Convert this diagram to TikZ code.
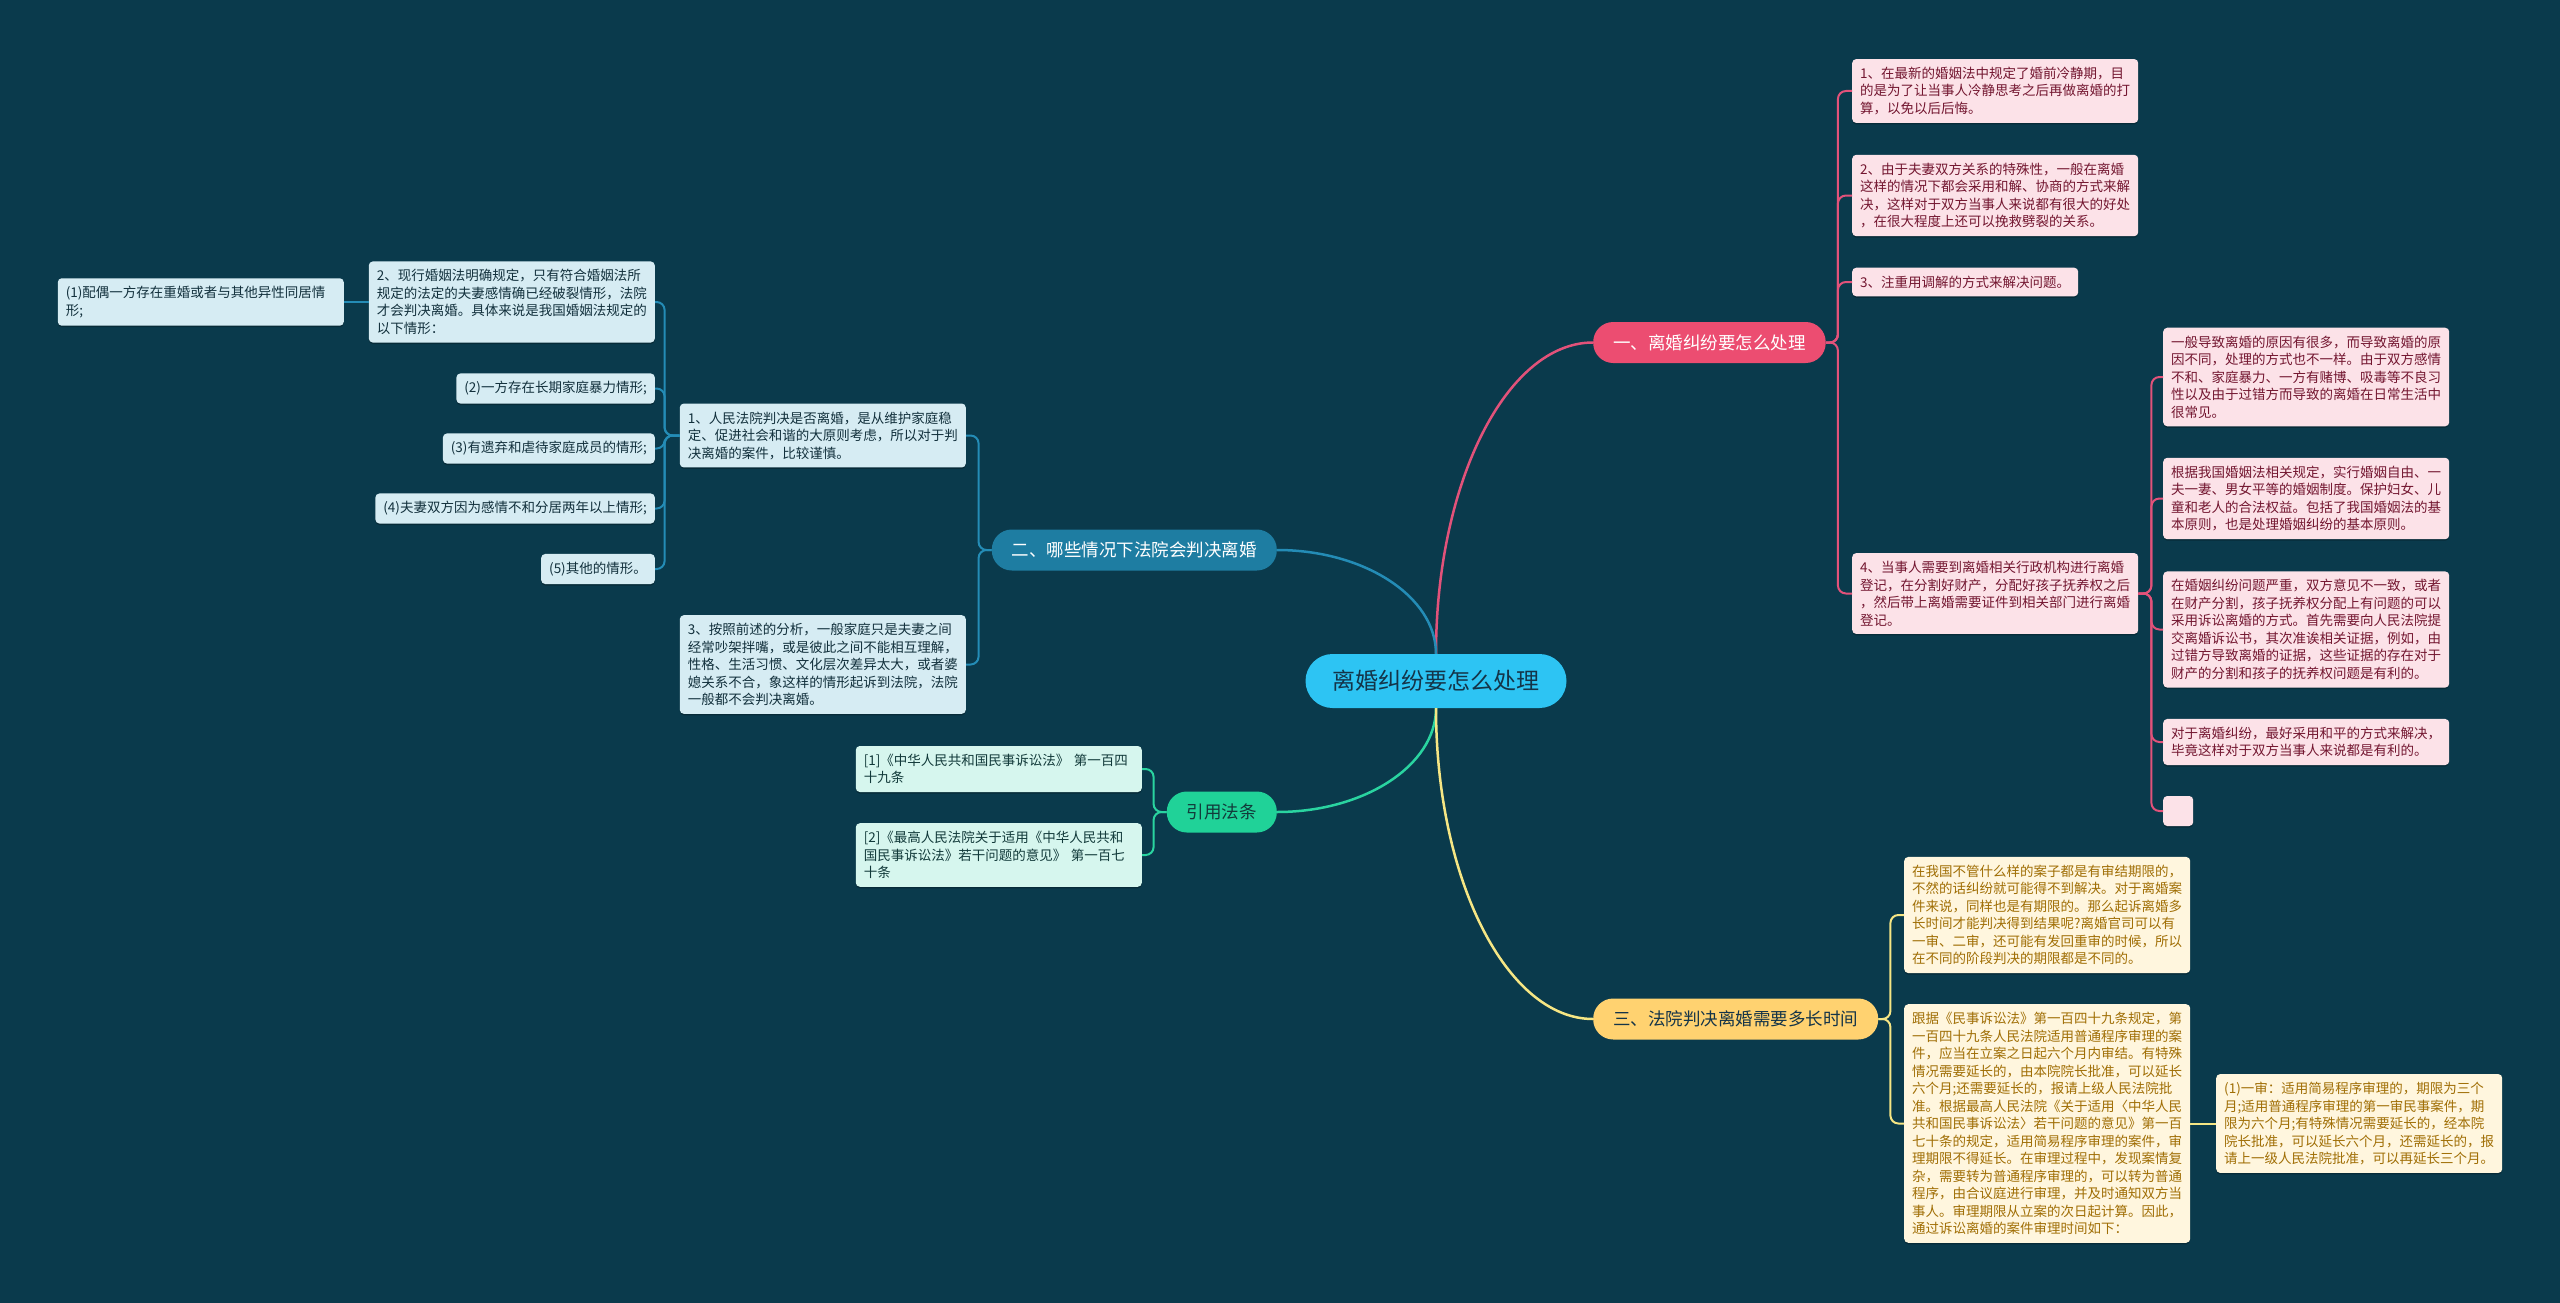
\documentclass[tikz,border=0pt]{standalone}
\usepackage{fontspec}
\newfontfamily\cjk{Noto Sans CJK SC}
\usetikzlibrary{calc,shadows}
\definecolor{bg}{RGB}{10,58,76}
\definecolor{rootfill}{RGB}{45,196,243}
\definecolor{roottext}{RGB}{20,52,72}
\definecolor{pinkfill}{RGB}{236,77,113}
\definecolor{pinkline}{RGB}{226,82,122}
\definecolor{pinkbg}{RGB}{252,226,232}
\definecolor{pinktx}{RGB}{115,22,48}
\definecolor{bluefill}{RGB}{30,125,162}
\definecolor{blueline}{RGB}{36,140,182}
\definecolor{bluebg}{RGB}{214,236,243}
\definecolor{bluetx}{RGB}{18,48,60}
\definecolor{greenfill}{RGB}{32,210,152}
\definecolor{greenline}{RGB}{42,212,160}
\definecolor{greenbg}{RGB}{214,246,238}
\definecolor{greentx}{RGB}{18,58,58}
\definecolor{yellowfill}{RGB}{255,210,112}
\definecolor{yellowline}{RGB}{246,230,132}
\definecolor{yellowbg}{RGB}{255,246,222}
\definecolor{yellowtx}{RGB}{160,110,5}
\begin{document}
\begin{tikzpicture}[x=1pt,y=-1pt,
  leaf/.style={rounded corners=4pt, inner xsep=8pt, inner ysep=8pt, align=left,
    font=\cjk\fontsize{13.5}{17.5}\selectfont,
    general shadow={fill=black, opacity=0.25, shadow yshift=-1.5pt}},
  wide/.style={text width=270pt},
  pleaf/.style={leaf, fill=pinkbg, text=pinktx},
  bleaf/.style={leaf, fill=bluebg, text=bluetx},
  gleaf/.style={leaf, fill=greenbg, text=greentx},
  yleaf/.style={leaf, fill=yellowbg, text=yellowtx},
  branch/.style={rounded corners=20pt, minimum height=41pt, inner xsep=20pt, inner ysep=0pt,
    font=\cjk\fontsize{17.5}{20}\selectfont},
  conn/.style={line width=2pt, rounded corners=8pt},
  mainconn/.style={line width=2.5pt},
]
\useasboundingbox[fill=bg] (0,0) rectangle (2560,1303);

% root
\node[fill=rootfill, text=roottext, rounded corners=27pt, minimum height=54pt, inner xsep=27pt,
  font=\cjk\fontsize{23}{26}\selectfont] (root) at (1436,681) {离婚纠纷要怎么处理};

% branches
\node[branch, fill=pinkfill, text=white, anchor=west] (pb) at (1593,342.5) {一、离婚纠纷要怎么处理};
\node[branch, fill=bluefill, text=white, anchor=east] (bb) at (1277,550) {二、哪些情况下法院会判决离婚};
\node[branch, fill=greenfill, text=greentx, anchor=east] (gb) at (1277,812) {引用法条};
\node[branch, fill=yellowfill, text=roottext, anchor=west] (yb) at (1593,1019) {三、法院判决离婚需要多长时间};

% pink leaves
\node[pleaf, wide, anchor=west] (n1) at (1852,91) {1、在最新的婚姻法中规定了婚前冷静期，目\\的是为了让当事人冷静思考之后再做离婚的打\\算，以免以后后悔。};
\node[pleaf, wide, anchor=west] (n2) at (1852,195.5) {2、由于夫妻双方关系的特殊性，一般在离婚\\这样的情况下都会采用和解、协商的方式来解\\决，这样对于双方当事人来说都有很大的好处\\，在很大程度上还可以挽救劈裂的关系。};
\node[pleaf, anchor=west] (n3) at (1852,282) {3、注重用调解的方式来解决问题。};
\node[pleaf, wide, anchor=west] (n4) at (1852,593.5) {4、当事人需要到离婚相关行政机构进行离婚\\登记，在分割好财产，分配好孩子抚养权之后\\，然后带上离婚需要证件到相关部门进行离婚\\登记。};

\node[pleaf, wide, anchor=west] (s1) at (2163,377) {一般导致离婚的原因有很多，而导致离婚的原\\因不同，处理的方式也不一样。由于双方感情\\不和、家庭暴力、一方有赌博、吸毒等不良习\\性以及由于过错方而导致的离婚在日常生活中\\很常见。};
\node[pleaf, wide, anchor=west] (s2) at (2163,498.5) {根据我国婚姻法相关规定，实行婚姻自由、一\\夫一妻、男女平等的婚姻制度。保护妇女、儿\\童和老人的合法权益。包括了我国婚姻法的基\\本原则，也是处理婚姻纠纷的基本原则。};
\node[pleaf, wide, anchor=west] (s3) at (2163,629.5) {在婚姻纠纷问题严重，双方意见不一致，或者\\在财产分割，孩子抚养权分配上有问题的可以\\采用诉讼离婚的方式。首先需要向人民法院提\\交离婚诉讼书，其次准诶相关证据，例如，由\\过错方导致离婚的证据，这些证据的存在对于\\财产的分割和孩子的抚养权问题是有利的。};
\node[pleaf, wide, anchor=west] (s4) at (2163,742) {对于离婚纠纷，最好采用和平的方式来解决，\\毕竟这样对于双方当事人来说都是有利的。};
\node[pleaf, anchor=west, inner sep=0pt, minimum width=30pt, minimum height=30pt] (s5) at (2163,811) {};

% blue leaves
\node[bleaf, wide, anchor=east] (b1) at (966,435.5) {1、人民法院判决是否离婚，是从维护家庭稳\\定、促进社会和谐的大原则考虑，所以对于判\\决离婚的案件，比较谨慎。};
\node[bleaf, wide, anchor=east] (b3) at (966,664.5) {3、按照前述的分析，一般家庭只是夫妻之间\\经常吵架拌嘴，或是彼此之间不能相互理解，\\性格、生活习惯、文化层次差异太大，或者婆\\媳关系不合，象这样的情形起诉到法院，法院\\一般都不会判决离婚。};
\node[bleaf, wide, anchor=east] (b2) at (655,302) {2、现行婚姻法明确规定，只有符合婚姻法所\\规定的法定的夫妻感情确已经破裂情形，法院\\才会判决离婚。具体来说是我国婚姻法规定的\\以下情形：};
\node[bleaf, anchor=east] (c2) at (655,388.5) {(2)一方存在长期家庭暴力情形;};
\node[bleaf, anchor=east] (c3) at (655,448.5) {(3)有遗弃和虐待家庭成员的情形;};
\node[bleaf, anchor=east] (c4) at (655,508.5) {(4)夫妻双方因为感情不和分居两年以上情形;};
\node[bleaf, anchor=east] (c5) at (655,569) {(5)其他的情形。};
\node[bleaf, wide, anchor=east] (c1) at (344,302) {(1)配偶一方存在重婚或者与其他异性同居情\\形;};

% green leaves
\node[gleaf, wide, anchor=east] (r1) at (1142,769) {[1]《中华人民共和国民事诉讼法》 第一百四\\十九条};
\node[gleaf, wide, anchor=east] (r2) at (1142,855) {[2]《最高人民法院关于适用《中华人民共和\\国民事诉讼法》若干问题的意见》 第一百七\\十条};

% yellow leaves
\node[yleaf, wide, anchor=west] (y1) at (1904,915) {在我国不管什么样的案子都是有审结期限的，\\不然的话纠纷就可能得不到解决。对于离婚案\\件来说，同样也是有期限的。那么起诉离婚多\\长时间才能判决得到结果呢?离婚官司可以有\\一审、二审，还可能有发回重审的时候，所以\\在不同的阶段判决的期限都是不同的。};
\node[yleaf, wide, anchor=west] (y2) at (1904,1123.5) {跟据《民事诉讼法》第一百四十九条规定，第\\一百四十九条人民法院适用普通程序审理的案\\件，应当在立案之日起六个月内审结。有特殊\\情况需要延长的，由本院院长批准，可以延长\\六个月;还需要延长的，报请上级人民法院批\\准。根据最高人民法院《关于适用〈中华人民\\共和国民事诉讼法〉若干问题的意见》第一百\\七十条的规定，适用简易程序审理的案件，审\\理期限不得延长。在审理过程中，发现案情复\\杂，需要转为普通程序审理的，可以转为普通\\程序，由合议庭进行审理，并及时通知双方当\\事人。审理期限从立案的次日起计算。因此，\\通过诉讼离婚的案件审理时间如下：};
\node[yleaf, wide, anchor=west] (y3) at (2216,1123.5) {(1)一审：适用简易程序审理的，期限为三个\\月;适用普通程序审理的第一审民事案件，期\\限为六个月;有特殊情况需要延长的，经本院\\院长批准，可以延长六个月，还需延长的，报\\请上一级人民法院批准，可以再延长三个月。};

% root connectors (quarter ellipses)
\draw[mainconn, pinkline] (root.north) .. controls ($(root.north)!0.55!(root.north |- pb.west)$) and ($(pb.west)!0.55!(root.north |- pb.west)$) .. (pb.west);
\draw[mainconn, blueline] (root.north) .. controls ($(root.north)!0.55!(root.north |- bb.east)$) and ($(bb.east)!0.55!(root.north |- bb.east)$) .. (bb.east);
\draw[mainconn, greenline] (root.south) .. controls ($(root.south)!0.55!(root.south |- gb.east)$) and ($(gb.east)!0.55!(root.south |- gb.east)$) .. (gb.east);
\draw[mainconn, yellowline] (root.south) .. controls ($(root.south)!0.55!(root.south |- yb.west)$) and ($(yb.west)!0.55!(root.south |- yb.west)$) .. (yb.west);

% pink connectors
\foreach \c in {n1,n2,n3,n4} \draw[conn, pinkline] (pb.east) -- ++(12,0) |- (\c.west);
\foreach \c in {s1,s2,s3,s4,s5} \draw[conn, pinkline] (n4.east) -- ++(13,0) |- (\c.west);

% blue connectors
\foreach \c in {b1,b3} \draw[conn, blueline] (bb.west) -- ++(-13,0) |- (\c.east);
\foreach \c in {b2,c2,c3,c4,c5} \draw[conn, blueline] (b1.west) -- ++(-15,0) |- (\c.east);
\draw[conn, blueline] (b2.west) -- (c1.east);

% green connectors
\foreach \c in {r1,r2} \draw[conn, greenline] (gb.west) -- ++(-13,0) |- (\c.east);

% yellow connectors
\foreach \c in {y1,y2} \draw[conn, yellowline] (yb.east) -- ++(12,0) |- (\c.west);
\draw[conn, yellowline] (y2.east) -- (y3.west);
\end{tikzpicture}
\end{document}
